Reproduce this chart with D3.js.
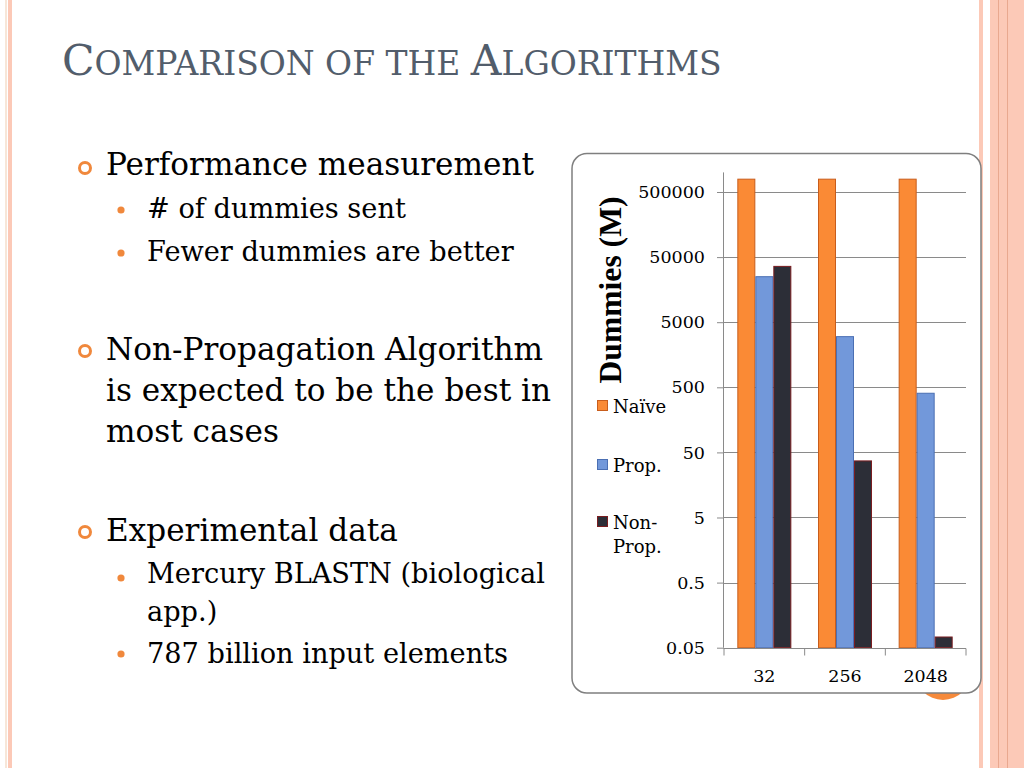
<!DOCTYPE html>
<html>
<head>
<meta charset="utf-8">
<script src="https://cdn.jsdelivr.net/npm/d3@7"></script>
<style>
  html, body { margin: 0; padding: 0; background: #ffffff; }
  svg { display: block; }
  text { font-family: "DejaVu Serif", serif; }
</style>
</head>
<body>
<svg id="slide" width="1024" height="768"></svg>
<script>
// ---------- data ----------
const categories = ["32", "256", "2048"];
const seriesNames = ["Naïve", "Prop.", "Non-Prop."];
const naive = [787000, 787000, 787000];
const prop = [25000, 3000, 405];
const nonProp = [36000, 37, 0.073];
const yTicks = [0.05, 0.5, 5, 50, 500, 5000, 50000, 500000];
const yTickLabels = ["0.05", "0.5", "5", "50", "500", "5000", "50000", "500000"];
const yDomain = [0.05, 1000000];
const axisTitle = "Dummies (M)";

const titleParts = [["C", true], ["OMPARISON OF THE ", false], ["A", true], ["LGORITHMS", false]];
const mainBullets = [
  { lines: ["Performance measurement"], subs: [["# of dummies sent"], ["Fewer dummies are better"]] },
  { lines: ["Non-Propagation Algorithm", "is expected to be the best in", "most cases"], subs: [] },
  { lines: ["Experimental data"], subs: [["Mercury BLASTN (biological", "app.)"], ["787 billion input elements"]] }
];

// ---------- layout / style ----------
const colors = {
  fills: ["#fa8a35", "#7298da", "#2c2e37"],
  strokes: ["#c85d1c", "#4b6fb3", "#7a1d20"],
  grid: "#8a8a8a",
  title: "#525d6b",
  bullet: "#f0883c",
  pink: "#fcc9b7",
  pinkLine: "#e9a88f",
  cream: "#f7e6d8"
};

const svg = d3.select("#slide");

// decorative borders
svg.append("rect").attr("x", 5).attr("y", 0).attr("width", 2).attr("height", 768).attr("fill", colors.cream);
svg.append("rect").attr("x", 8).attr("y", 0).attr("width", 4).attr("height", 768).attr("fill", colors.pink);
svg.append("rect").attr("x", 979).attr("y", 0).attr("width", 4).attr("height", 768).attr("fill", colors.pink);
svg.append("rect").attr("x", 990).attr("y", 0).attr("width", 34).attr("height", 768).attr("fill", colors.pink);
[998.5, 1007.5].forEach(x => svg.append("line").attr("x1", x).attr("x2", x).attr("y1", 0).attr("y2", 768)
  .attr("stroke", colors.pinkLine).attr("stroke-width", 1));

// orange circle behind the chart box
svg.append("circle").attr("cx", 943).attr("cy", 672).attr("r", 28).attr("fill", "#f68a3b");

// ---------- title ----------
function fitWidth(textSel, target) {
  const w = textSel.node().getComputedTextLength();
  return target / w;
}
const title = svg.append("text").attr("x", 62).attr("y", 75).attr("fill", colors.title)
  .style("font-family", "'DejaVu Serif', serif");
titleParts.forEach(([t, big]) => {
  title.append("tspan").attr("class", big ? "big" : "small").text(t)
    .style("font-size", big ? "40px" : "31px");
});
{
  const k = fitWidth(title, 660);
  title.selectAll("tspan.big").style("font-size", (40 * k) + "px");
  title.selectAll("tspan.small").style("font-size", (31 * k) + "px");
}

// ---------- bullets ----------
const mainX = 106, subX = 147;
const mainBaselines = [[175], [360, 401, 442], [541]];
const subBaselines = [[[218], [261]], [], [[583, 621], [663]]];
const mainRing = [168, 351, 532];
const subDots = [[210, 253], [], [578, 654]];

const textG = svg.append("g");
const mainTexts = [], subTexts = [];
mainBullets.forEach((b, i) => {
  textG.append("circle").attr("cx", 85).attr("cy", mainRing[i]).attr("r", 5.5)
    .attr("fill", "none").attr("stroke", colors.bullet).attr("stroke-width", 3);
  b.lines.forEach((ln, j) => {
    mainTexts.push(textG.append("text").attr("x", mainX).attr("y", mainBaselines[i][j])
      .attr("fill", "#000").style("font-size", "31px").text(ln));
  });
  b.subs.forEach((s, j) => {
    textG.append("circle").attr("cx", 121).attr("cy", subDots[i][j]).attr("r", 3.6).attr("fill", colors.bullet);
    s.forEach((ln, k) => {
      subTexts.push(textG.append("text").attr("x", subX).attr("y", subBaselines[i][j][k])
        .attr("fill", "#000").style("font-size", "26px").text(ln));
    });
  });
});
{
  const k1 = fitWidth(mainTexts[1], 437);
  mainTexts.forEach(t => t.style("font-size", (31 * k1) + "px"));
  const k2 = fitWidth(subTexts[2], 398);
  subTexts.forEach(t => t.style("font-size", (26 * k2) + "px"));
}

// ---------- chart box ----------
svg.append("rect").attr("x", 572).attr("y", 153.5).attr("width", 409).attr("height", 539.5)
  .attr("rx", 15).attr("ry", 15).attr("fill", "#fff").attr("stroke", "#7f7f7f").attr("stroke-width", 1.5);

const plot = { left: 724, right: 966, bottom: 647.7, top: 172.4 };
const y = d3.scaleLog().domain(yDomain).range([plot.bottom, plot.top]);
const x0 = d3.scaleBand().domain(categories).range([plot.left, plot.right]).paddingInner(0).paddingOuter(0);
const groupPad = x0.bandwidth() * 0.1653;
const x1 = d3.scaleBand().domain(seriesNames).range([groupPad, x0.bandwidth() - groupPad]).padding(0);

const chart = svg.append("g");

// gridlines
chart.append("g").selectAll("line").data(yTicks).join("line")
  .attr("x1", plot.left).attr("x2", plot.right)
  .attr("y1", d => Math.round(y(d)) + 0.5).attr("y2", d => Math.round(y(d)) + 0.5)
  .attr("stroke", colors.grid).attr("stroke-width", 1);

// y axis
const yAxis = d3.axisLeft(y).tickValues(yTicks).tickFormat((d, i) => yTickLabels[i]).tickSize(7).tickPadding(12);
const yg = chart.append("g").attr("transform", `translate(${plot.left},0)`).call(yAxis);
yg.select(".domain").attr("stroke", colors.grid).attr("d", `M-0.5,${plot.top}V${plot.bottom}`);
yg.selectAll(".tick line").attr("stroke", colors.grid);
yg.selectAll(".tick text").style("font-family", "'DejaVu Serif', serif").style("font-size", "17.5px").attr("fill", "#000");

// bars
const values = [naive, prop, nonProp];
const barData = [];
categories.forEach((c, ci) => seriesNames.forEach((s, si) => barData.push({ c, s, si, v: values[si][ci] })));
chart.append("g").selectAll("rect").data(barData).join("rect")
  .attr("x", d => x0(d.c) + x1(d.s) + 0.5)
  .attr("width", x1.bandwidth() - 1)
  .attr("y", d => y(d.v))
  .attr("height", d => y(yDomain[0]) - y(d.v))
  .attr("fill", d => colors.fills[d.si])
  .attr("stroke", d => colors.strokes[d.si]).attr("stroke-width", 1);

// x axis
const xg = chart.append("g").attr("transform", `translate(0,${Math.round(plot.bottom) + 0.5})`);
xg.append("line").attr("x1", plot.left - 0.5).attr("x2", plot.right).attr("y1", 0).attr("y2", 0).attr("stroke", colors.grid);
const bounds = categories.map(c => x0(c)).concat([plot.right]);
xg.selectAll("line.tk").data(bounds).join("line").attr("class", "tk")
  .attr("x1", d => d).attr("x2", d => d).attr("y1", 0).attr("y2", 7).attr("stroke", colors.grid);
xg.selectAll("text").data(categories).join("text")
  .attr("x", d => x0(d) + x0.bandwidth() / 2).attr("y", 33.5)
  .attr("text-anchor", "middle").style("font-size", "17.5px").attr("fill", "#000").text(d => d);

// axis title
const at = chart.append("text").attr("transform", "translate(621,290) rotate(-90)")
  .attr("text-anchor", "middle").style("font-family", "'Liberation Serif', serif")
  .style("font-weight", "bold").style("font-size", "30px").attr("fill", "#000").text(axisTitle);
{
  const k = fitWidth(at, 187);
  at.style("font-size", (30 * k) + "px");
}

// legend
const legendY = [406, 465, 522];
const leg = chart.append("g");
seriesNames.forEach((s, i) => {
  leg.append("rect").attr("x", 597.5).attr("y", legendY[i] - 5.5).attr("width", 10).attr("height", 10)
    .attr("fill", colors.fills[i]).attr("stroke", colors.strokes[i]).attr("stroke-width", 1);
  const parts = s.includes("-") ? [s.slice(0, s.indexOf("-") + 1), s.slice(s.indexOf("-") + 1)] : [s];
  parts.forEach((p, j) => {
    leg.append("text").attr("x", 613).attr("y", legendY[i] + 6.5 + j * 24)
      .style("font-size", "18px").attr("fill", "#000").text(p);
  });
});
</script>
</body>
</html>
